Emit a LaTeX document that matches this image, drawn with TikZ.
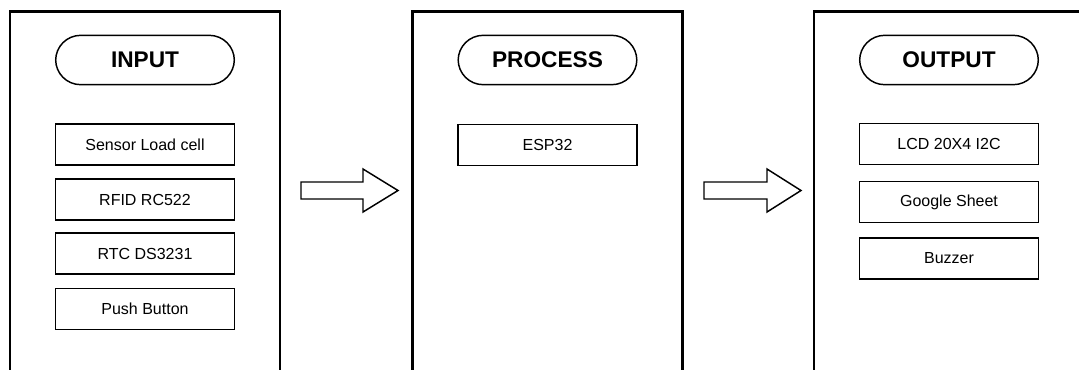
\documentclass[tikz,border=0pt]{standalone}
\usepackage{fontspec}
\setmainfont{Liberation Sans}
\usepackage{tikz}
\usetikzlibrary{positioning}

\begin{document}
\begin{tikzpicture}[
    x=0.75pt, y=-0.75pt,
    font=\fontsize{12pt}{14pt}\selectfont,
    panel/.style={draw, line width=2.2pt, minimum width=202.5pt, minimum height=300pt, anchor=north, inner sep=0pt},
    stage/.style={draw, line width=1.1pt, rounded corners=18.75pt, minimum width=134pt, minimum height=37pt, inner sep=0pt, font=\fontsize{17pt}{20pt}\selectfont\bfseries},
    part/.style={draw, line width=1.1pt, minimum width=134pt, minimum height=30.5pt, inner sep=0pt},
    blockarrow/.style={draw, line width=1.1pt, line join=miter, fill=white},
  ]
  \useasboundingbox (0,0) rectangle (1079,369);
  \clip (0,0) rectangle (1079,369);
  % the three columns
  \node[panel] (inpanel) at (145,10) {};
  \node[panel] (procpanel) at (547.5,10) {};
  \node[panel] (outpanel) at (949,10) {};
  \node[stage] (input) at (145,60) {INPUT};
  \node[stage] (process) at (547.5,60) {PROCESS};
  \node[stage] (output) at (949,60) {OUTPUT};
  % input devices
  \node[part] (loadcell) at (145,144.5) {Sensor Load cell};
  \node[part] (rfid) at (145,199.5) {RFID RC522};
  \node[part] (rtc) at (145,253.5) {RTC DS3231};
  \node[part] (button) at (145,309) {Push Button};
  % controller
  \node[part] (esp) at (547.5,145) {ESP32};
  % output devices
  \node[part] (lcd) at (949,144) {LCD 20X4 I2C};
  \node[part] (sheet) at (949,202) {Google Sheet};
  \node[part] (buzzer) at (949,258.5) {Buzzer};
  % block arrows between the columns
  \coordinate (arrowA) at (301,190.5);
  \coordinate (arrowB) at (704,190.5);
  \draw[blockarrow] (arrowA) ++(0,-8.5) -- ++(62,0) -- ++(0,-13) -- ++(35,21.5) -- ++(-35,21.5) -- ++(0,-13) -- ++(-62,0) -- cycle;
  \draw[blockarrow] (arrowB) ++(0,-8.5) -- ++(63,0) -- ++(0,-13) -- ++(34,21.5) -- ++(-34,21.5) -- ++(0,-13) -- ++(-63,0) -- cycle;
\end{tikzpicture}
\end{document}
